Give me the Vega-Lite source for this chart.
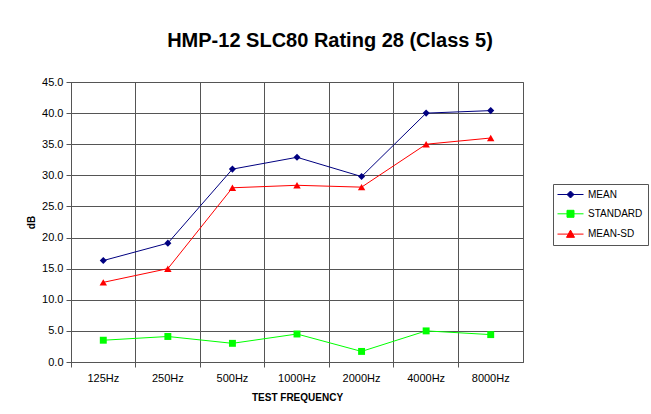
{
  "$schema": "https://vega.github.io/schema/vega-lite/v6.json",
  "width": 452,
  "height": 280,
  "autosize": "none",
  "padding": {"left": 71, "top": 82, "right": 128, "bottom": 52},
  "background": "white",
  "title": {"text": "HMP-12 SLC80 Rating 28 (Class 5)", "font": "Liberation Sans", "fontSize": 20, "fontWeight": "bold", "color": "black", "anchor": "middle", "dx": 33, "offset": 25},
  "config": {
    "view": {"stroke": "#555", "strokeWidth": 1},
    "axis": {"labelFont": "Liberation Sans", "titleFont": "Liberation Sans", "labelColor": "black", "titleColor": "black", "domainColor": "#555", "tickColor": "#555", "gridColor": "#555", "gridOpacity": 1, "labelFontSize": 11, "titleFontSize": 10, "titleFontWeight": "bold"},
    "legend": {"labelFont": "Liberation Sans", "labelFontSize": 10, "labelColor": "black"}
  },
  "data": {"values": [
    {"freq": "125Hz", "series": "MEAN", "value": 16.3},
    {"freq": "250Hz", "series": "MEAN", "value": 19.1},
    {"freq": "500Hz", "series": "MEAN", "value": 31.0},
    {"freq": "1000Hz", "series": "MEAN", "value": 32.9},
    {"freq": "2000Hz", "series": "MEAN", "value": 29.8},
    {"freq": "4000Hz", "series": "MEAN", "value": 40.0},
    {"freq": "8000Hz", "series": "MEAN", "value": 40.4},
    {"freq": "125Hz", "series": "STANDARD", "value": 3.5},
    {"freq": "250Hz", "series": "STANDARD", "value": 4.1},
    {"freq": "500Hz", "series": "STANDARD", "value": 3.0},
    {"freq": "1000Hz", "series": "STANDARD", "value": 4.5},
    {"freq": "2000Hz", "series": "STANDARD", "value": 1.7},
    {"freq": "4000Hz", "series": "STANDARD", "value": 5.0},
    {"freq": "8000Hz", "series": "STANDARD", "value": 4.4},
    {"freq": "125Hz", "series": "MEAN-SD", "value": 12.8},
    {"freq": "250Hz", "series": "MEAN-SD", "value": 15.0},
    {"freq": "500Hz", "series": "MEAN-SD", "value": 28.0},
    {"freq": "1000Hz", "series": "MEAN-SD", "value": 28.4},
    {"freq": "2000Hz", "series": "MEAN-SD", "value": 28.1},
    {"freq": "4000Hz", "series": "MEAN-SD", "value": 35.0},
    {"freq": "8000Hz", "series": "MEAN-SD", "value": 36.0}
  ]},
  "encoding": {
    "y": {"field": "value", "type": "quantitative", "scale": {"domain": [0, 45], "nice": false}, "axis": {"values": [0, 5, 10, 15, 20, 25, 30, 35, 40, 45], "format": ".1f", "title": "dB", "grid": true, "tickSize": 5, "labelPadding": 3, "titlePadding": 5}},
    "color": {"field": "series", "type": "nominal", "sort": ["MEAN", "STANDARD", "MEAN-SD"], "scale": {"domain": ["MEAN", "STANDARD", "MEAN-SD"], "range": ["#000080", "#00FF00", "#FF0000"]},
      "legend": {"title": null, "orient": "none", "legendX": 482, "legendY": 102, "strokeColor": "#555", "fillColor": "white", "padding": 5, "symbolSize": 100, "symbolOffset": 7, "rowPadding": 8.3, "labelOffset": 12,
        "encode": {"symbols": {"update": {
          "shape": {"signal": "datum.value === 'MEAN' ? 'M-2.6,0H2.6M0,-0.7L0.7,0L0,0.7L-0.7,0Z' : datum.value === 'STANDARD' ? 'M-2.6,0H2.6M-0.7,-0.7H0.7V0.7H-0.7Z' : 'M-2.6,0H2.6M0,-0.8L0.8,0.65H-0.8Z'"},
          "fill": {"scale": "color", "field": "value"},
          "stroke": {"scale": "color", "field": "value"},
          "strokeWidth": {"value": 1},
          "opacity": {"value": 1}
        }}}}
    }
  },
  "layer": [
    {
      "mark": {"type": "line", "strokeWidth": 1},
      "encoding": {
        "x": {"field": "freq", "type": "nominal", "sort": ["125Hz", "250Hz", "500Hz", "1000Hz", "2000Hz", "4000Hz", "8000Hz"], "scale": {"type": "band", "paddingInner": 0, "paddingOuter": 0},
          "axis": {"orient": "bottom", "bandPosition": 0, "grid": true, "labels": false, "title": null, "tickSize": 5, "domain": true}}
      }
    },
    {
      "transform": [{"filter": "datum.series === 'MEAN'"}],
      "mark": {"type": "point", "filled": true, "opacity": 1, "shape": "diamond", "size": 50},
      "encoding": {
        "x": {"field": "freq", "type": "nominal", "sort": ["125Hz", "250Hz", "500Hz", "1000Hz", "2000Hz", "4000Hz", "8000Hz"],
          "axis": {"orient": "bottom", "bandPosition": 0.5, "grid": false, "ticks": false, "domain": false, "labelAngle": 0, "labelPadding": 10, "title": "TEST FREQUENCY", "titlePadding": 9}}
      }
    },
    {
      "transform": [{"filter": "datum.series === 'STANDARD'"}],
      "mark": {"type": "point", "filled": true, "opacity": 1, "shape": "square", "size": 48},
      "encoding": {
        "x": {"field": "freq", "type": "nominal", "sort": ["125Hz", "250Hz", "500Hz", "1000Hz", "2000Hz", "4000Hz", "8000Hz"], "axis": null}
      }
    },
    {
      "transform": [{"filter": "datum.series === 'MEAN-SD'"}],
      "mark": {"type": "point", "filled": true, "opacity": 1, "shape": "triangle-up", "size": 55},
      "encoding": {
        "x": {"field": "freq", "type": "nominal", "sort": ["125Hz", "250Hz", "500Hz", "1000Hz", "2000Hz", "4000Hz", "8000Hz"], "axis": null}
      }
    }
  ],
  "resolve": {"axis": {"x": "independent"}}
}
